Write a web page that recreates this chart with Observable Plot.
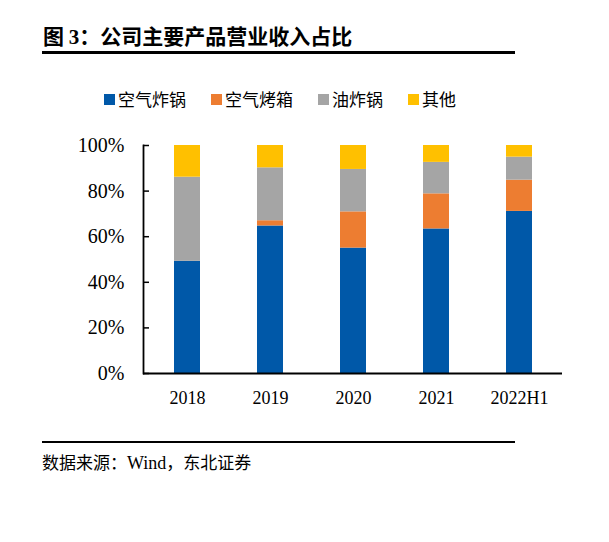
<!DOCTYPE html>
<html><head><meta charset="utf-8">
<script src="https://cdn.jsdelivr.net/npm/d3@7"></script>
<script src="https://cdn.jsdelivr.net/npm/@observablehq/plot@0.6"></script>
<style>
body{margin:0;background:#fff;}
#wrap{position:relative;width:609px;height:542px;overflow:hidden;background:#fff;}
#title{position:absolute;left:43px;top:23px;font-family:"Noto Sans CJK SC",sans-serif;font-weight:bold;font-size:21px;line-height:24px;color:#000;white-space:nowrap;}
#title .num{font-family:"Liberation Serif",serif;}
.hr{position:absolute;left:42px;width:473px;background:#000;}
#legend{position:absolute;left:104px;top:88px;display:flex;align-items:center;font-family:"Noto Sans CJK SC",sans-serif;font-size:17px;line-height:22px;color:#000;white-space:nowrap;}
#legend .item{display:flex;align-items:center;margin-right:25px;}
#legend .sw{width:11px;height:11px;margin-right:3px;}
#chart{position:absolute;left:0;top:120px;}
#source{position:absolute;left:42px;top:451px;font-family:"Noto Sans CJK SC",sans-serif;font-size:17px;line-height:22px;color:#000;white-space:nowrap;}
#source .lat{font-family:"Liberation Serif",serif;font-size:18px;}
</style></head><body>
<div id="wrap">
<div id="title">图 <span class="num">3</span>：公司主要产品营业收入占比</div>
<div class="hr" style="top:51px;height:3px;"></div>
<div id="legend"></div>
<div id="chart"></div>
<div class="hr" style="top:441px;height:2px;"></div>
<div id="source">数据来源：<span class="lat">Wind</span>，东北证券</div>
</div>
<script>
const categories = ["2018", "2019", "2020", "2021", "2022H1"];
const seriesNames = ["空气炸锅", "空气烤箱", "油炸锅", "其他"];
const colors = ["#0058A8", "#ED7D31", "#A5A5A5", "#FFC000"];
const airFryer = [49.2, 64.7, 55.0, 63.4, 71.1];
const airOven = [0.0, 2.3, 15.9, 15.4, 13.7];
const oilFryer = [36.9, 23.2, 18.6, 13.8, 10.1];
const other = [13.9, 9.8, 10.5, 7.4, 5.1];
const yTicks = [0, 20, 40, 60, 80, 100];

const seriesValues = [airFryer, airOven, oilFryer, other];
const table = [];
seriesNames.forEach((s, i) => {
  categories.forEach((c, j) => table.push({cat: c, series: s, value: seriesValues[i][j]}));
});

// legend
const leg = document.getElementById("legend");
seriesNames.forEach((s, i) => {
  const it = document.createElement("div");
  it.className = "item";
  it.innerHTML = `<div class="sw" style="background:${colors[i]}"></div><span>${s}</span>`;
  leg.appendChild(it);
});

const chart = Plot.plot({
  width: 609,
  height: 300,
  marginTop: 25,
  marginBottom: 47,
  marginLeft: 143,
  marginRight: 47,
  x: {domain: categories, paddingInner: 0.69, paddingOuter: 0.345, label: null},
  y: {domain: [0, 100], label: null},
  color: {domain: seriesNames, range: colors},
  style: {fontFamily: "'Liberation Serif', 'Times New Roman', serif", color: "#000", background: "#fff"},
  marks: [
    Plot.barY(table, {x: "cat", y: "value", fill: "series", order: seriesNames}),
    Plot.axisX({tickSize: 0, tickPadding: 18, fontSize: 18, label: null}),
    Plot.axisY({ticks: yTicks, tickSize: 0, tickPadding: 19, tickFormat: d => d + "%", fontSize: 20, label: null}),
    Plot.axisY({ticks: yTicks, tickSize: 6, dx: 6, tickFormat: () => "", strokeWidth: 1.5, label: null}),
    Plot.ruleY([0], {stroke: "#000", strokeWidth: 1.8}),
    Plot.frame({anchor: "left", stroke: "#000", strokeWidth: 1.8})
  ]
});
document.getElementById("chart").appendChild(chart);
</script>
</body></html>
